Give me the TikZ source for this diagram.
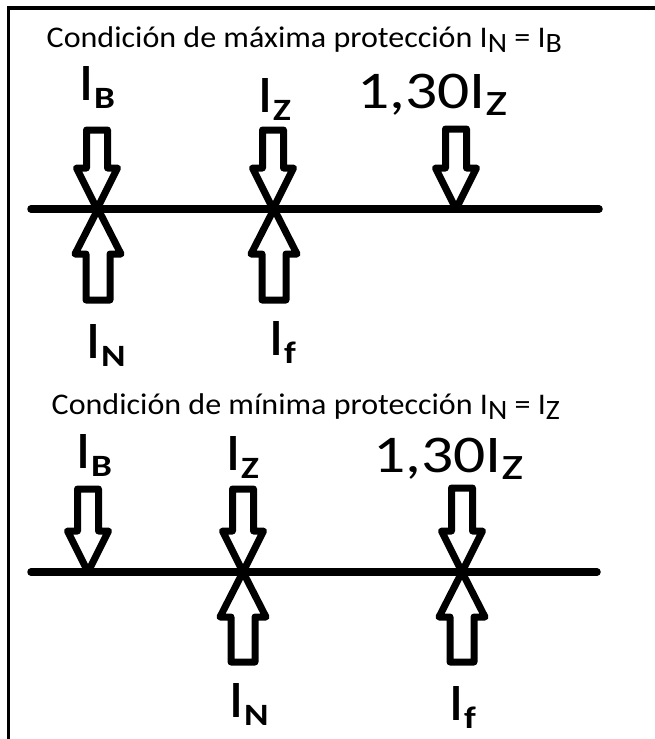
\documentclass[tikz,border=0pt]{standalone}
\usepackage{fontspec}
\setmainfont{Carlito}
\newfontfamily\bigfont[FakeStretch=1.2]{Carlito}
\newfontfamily\ttlfont[FakeStretch=1.068]{Carlito}
\newcommand\bsub[1]{\raisebox{-8pt}{\fontsize{31}{31}\selectfont\bfseries #1}}
\newcommand\tsub[1]{\raisebox{-5pt}{\fontsize{28}{28}\selectfont #1}}
\begin{document}
\begin{tikzpicture}[x=1pt,y=-1pt,
  frame/.style={line width=3.5pt},
  axis/.style={line width=7.5pt, line cap=round},
  blk/.style={line width=7pt, line join=round},
  big/.style={font=\bigfont\fontsize{53}{53}\selectfont, inner sep=0pt, anchor=base west},
  ttl/.style={font=\ttlfont\fontsize{30}{30}\selectfont, inner sep=0pt, anchor=base west},
  downarr/.pic={\draw[blk] (0,0) -- (20.5,-41) -- (10.5,-41) -- (10.5,-#1) -- (-10.5,-#1) -- (-10.5,-41) -- (-20.5,-41) -- cycle;},
  uparr/.pic={\draw[blk] (0,0) -- (23,45) -- (12,45) -- (12,#1) -- (-12,#1) -- (-12,45) -- (-23,45) -- cycle;}
]
\useasboundingbox (0,0) rectangle (655,739);
% frame
\draw[frame] (656,8) -- (8.5,8) -- (8.5,740);

% ---------- upper diagram ----------
\node[ttl] (t1) at (46.5,47) {Condición de máxima protección I\tsub{N} = I\tsub{B}};
\coordinate (a1) at (31,209);
\coordinate (b1) at (599,209);
\draw[axis] (a1) -- (b1);
\pic (dB1) at (97,209) {downarr=79};
\pic (dZ1) at (273,209) {downarr=79};
\pic (dK1) at (456,209) {downarr=80};
\pic (uN1) at (98,209) {uparr=91};
\pic (uF1) at (274,209) {uparr=91};
\node[big] (lB1) at (78,100) {I\bsub{B}};
\node[big] (lZ1) at (257,112) {I\bsub{Z}};
\node[big] (lK1) at (357,108) {1,30I\raisebox{-7pt}{\fontsize{48}{48}\selectfont z}};
\node[big] (lN1) at (85,358) {I\bsub{N}};
\node[big] (lF1) at (268,355) {I\bsub{f}};

% ---------- lower diagram ----------
\node[ttl] (t2) at (51.5,414) {Condición de mínima protección I\tsub{N} = I\tsub{Z}};
\coordinate (a2) at (31,572);
\coordinate (b2) at (597,572);
\draw[axis] (a2) -- (b2);
\pic (dB2) at (88,572) {downarr=83};
\pic (dZ2) at (243,572) {downarr=83};
\pic (dK2) at (462,572) {downarr=84};
\pic (uN2) at (243,572) {uparr=90};
\pic (uF2) at (462,572) {uparr=90};
\node[big] (lB2) at (75,468) {I\bsub{B}};
\node[big] (lZ2) at (225,470) {I\bsub{Z}};
\node[big] (lK2) at (373,472) {1,30I\raisebox{-7pt}{\fontsize{48}{48}\selectfont z}};
\node[big] (lN2) at (228,717) {I\bsub{N}};
\node[big] (lF2) at (448,720) {I\bsub{f}};
\end{tikzpicture}
\end{document}
